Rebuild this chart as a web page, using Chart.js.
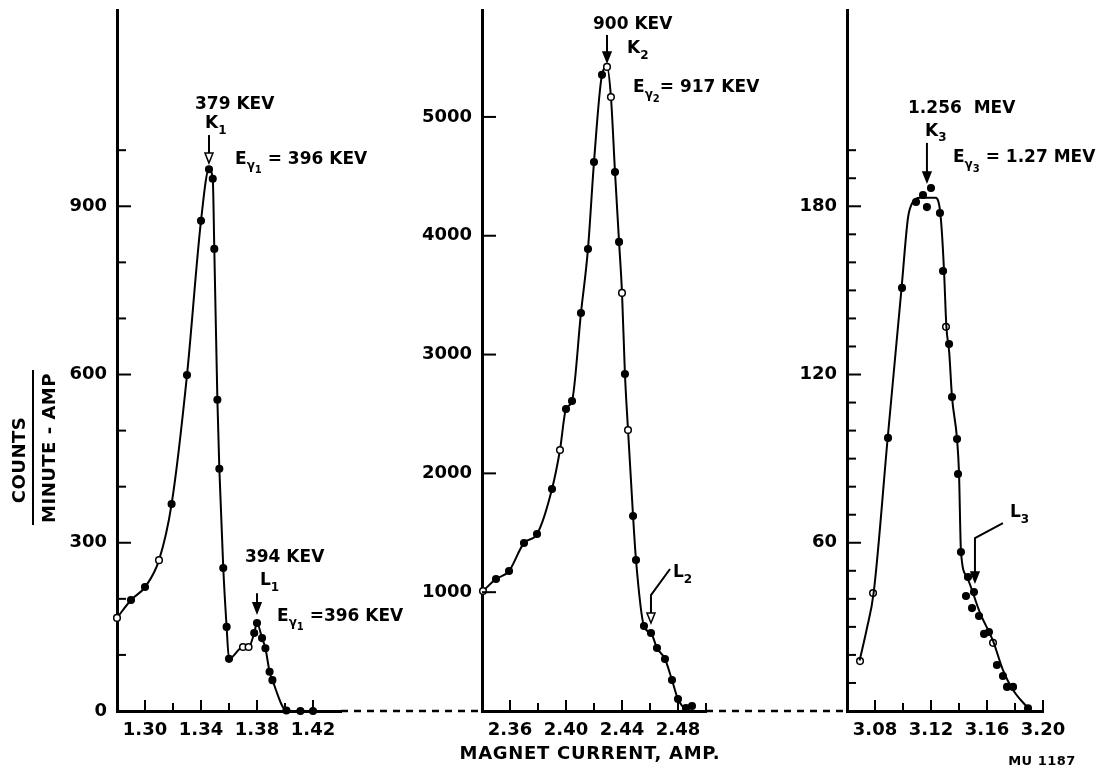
<!DOCTYPE html>
<html lang="en">
<head>
<meta charset="UTF-8">
<title>Conversion electron lines vs magnet current</title>
<script src="https://cdn.jsdelivr.net/npm/chart.js"></script>
<style>
  body { margin: 0; background: #fff; }
  #wrap { position: relative; width: 1103px; height: 772px; }
  #wrap canvas { position: absolute; left: 0; top: 0; }
</style>
</head>
<body>
<div id="wrap">
  <canvas id="k1" width="1103" height="772"></canvas>
  <canvas id="k2" width="1103" height="772"></canvas>
  <canvas id="k3" width="1103" height="772"></canvas>
</div>
<script>
// panel 1 : K1 / L1 lines
const current1 = [1.280, 1.290, 1.300, 1.310, 1.319, 1.330, 1.340, 1.3457, 1.3484, 1.3495, 1.3517, 1.3531,
                  1.3559, 1.3583, 1.360, 1.370, 1.374, 1.378, 1.380, 1.3836, 1.386, 1.389, 1.391, 1.401, 1.411, 1.420];
const counts1 = [166, 198, 221, 269, 369, 599, 874, 966, 949, 824, 555, 432,
                 255, 150, 93, 114, 114, 139, 157, 130, 112, 70, 55, 1, 0, 0];
const open1 = [0, 3, 15, 16];
const xTicks1 = [1.30, 1.32, 1.34, 1.36, 1.38, 1.40, 1.42];
const xLabels1 = [1.30, 1.34, 1.38, 1.42];
const yTicks1 = [0, 100, 200, 300, 400, 500, 600, 700, 800, 900, 1000];
const yLabels1 = [0, 300, 600, 900];

// panel 2 : K2 / L2 lines
const current2 = [2.3407, 2.350, 2.3593, 2.370, 2.3793, 2.390, 2.3957, 2.400, 2.4043, 2.4107, 2.4157, 2.420,
                  2.4257, 2.4293, 2.4321, 2.435, 2.4379, 2.440, 2.4421, 2.4443, 2.4479, 2.450, 2.4557, 2.4607,
                  2.465, 2.4707, 2.4757, 2.480, 2.4857, 2.490];
const counts2 = [1010, 1111, 1178, 1414, 1490, 1869, 2197, 2542, 2609, 3350, 3889, 4621,
                 5354, 5421, 5168, 4537, 3948, 3519, 2837, 2365, 1641, 1271, 715, 657,
                 530, 438, 261, 101, 25, 42];
const open2 = [0, 6, 13, 14, 17, 19];
const xTicks2 = [2.36, 2.38, 2.40, 2.42, 2.44, 2.46, 2.48, 2.50];
const xLabels2 = [2.36, 2.40, 2.44, 2.48];
const yTicks2 = [1000, 2000, 3000, 4000, 5000];
const yLabels2 = [1000, 2000, 3000, 4000, 5000];

// panel 3 : K3 / L3 lines (measured points + drawn curve)
const current3 = [3.0693, 3.0786, 3.0893, 3.0993, 3.1093, 3.1143, 3.1171, 3.120, 3.1264, 3.1286, 3.1307, 3.1329,
                  3.135, 3.1386, 3.1393, 3.1414, 3.145, 3.1464, 3.1493, 3.1507, 3.1543, 3.1579, 3.1614, 3.1643,
                  3.1671, 3.1714, 3.1743, 3.1786, 3.1893];
const counts3 = [17.8, 42.1, 97.4, 150.9, 181.5, 184.0, 179.7, 186.5, 177.6, 156.9, 137.0, 130.9,
                 112.0, 97.0, 84.5, 56.7, 41.0, 47.8, 36.7, 42.4, 33.9, 27.5, 28.2, 24.3,
                 16.4, 12.5, 8.6, 8.6, 1.0];
const open3 = [0, 1, 10, 23];
const curveCurrent3 = [3.069, 3.074, 3.079, 3.089, 3.099, 3.1036, 3.107, 3.112, 3.123, 3.126, 3.1276, 3.1293, 3.131,
                       3.133, 3.135, 3.1386, 3.140, 3.1414, 3.1455, 3.155, 3.1643, 3.1714, 3.1786, 3.1893];
const curveCounts3 = [18, 29, 42, 97, 151, 176, 181.5, 183, 183, 180, 172, 157, 137,
                      128, 112, 97, 85, 57, 48, 35, 25, 14.6, 7.5, 1];
const xTicks3 = [3.08, 3.10, 3.12, 3.14, 3.16, 3.18, 3.20];
const xLabels3 = [3.08, 3.12, 3.16, 3.20];
const yTicks3 = [0, 10, 20, 30, 40, 50, 60, 70, 80, 90, 100, 110, 120, 130, 140, 150, 160, 170, 180, 190, 200];
const yLabels3 = [60, 120, 180];

const FONT = '"DejaVu Sans", sans-serif';
Chart.defaults.font.family = FONT;
Chart.defaults.font.weight = 'bold';
Chart.defaults.color = '#000';

const charts = [];
const has = (arr, v) => arr.some(a => Math.abs(a - v) < 1e-6);
const pts = (xs, ys) => xs.map((x, i) => ({ x: x, y: ys[i] }));
const fills = (xs, open) => xs.map((_, i) => open.includes(i) ? '#fff' : '#000');

function line(ctx, x1, y1, x2, y2) {
  ctx.beginPath(); ctx.moveTo(x1, y1); ctx.lineTo(x2, y2); ctx.stroke();
}

// text with subscripts: parts = [[text, level]]
function rich(ctx, x, y, parts) {
  let cx = x;
  for (const [t, lvl] of parts) {
    const size = lvl === 0 ? 17 : lvl === 1 ? 12 : 10;
    const dy = lvl === 0 ? 0 : lvl === 1 ? 7 : 11;
    ctx.font = 'bold ' + size + 'px ' + FONT;
    ctx.fillText(t, cx, y + dy);
    cx += ctx.measureText(t).width;
  }
}

function arrowHead(ctx, x, y, open) {
  ctx.beginPath();
  ctx.moveTo(x, y); ctx.lineTo(x - 4, y - 10); ctx.lineTo(x + 4, y - 10); ctx.closePath();
  ctx.fillStyle = open ? '#fff' : '#000';
  ctx.fill(); ctx.lineWidth = 1.5; ctx.stroke();
  ctx.fillStyle = '#000';
}

function decor(p, idx) {
  return {
    id: 'decor' + idx,
    afterDraw(chart) {
      const { ctx, chartArea: a, scales: { x, y } } = chart;
      ctx.save();
      ctx.strokeStyle = '#000'; ctx.fillStyle = '#000'; ctx.lineWidth = 2;
      // tick marks point into the plot
      p.xTicks.forEach(v => {
        const px = x.getPixelForValue(v);
        line(ctx, px, a.bottom, px, a.bottom - (has(p.xLabels, v) ? 11 : 8));
      });
      p.yTicks.forEach(v => {
        const py = y.getPixelForValue(v);
        line(ctx, a.left, py, a.left + (has(p.yLabels, v) ? 14 : 9), py);
      });
      // dashed zero line joining the panels
      if (idx > 0 && charts[idx - 1]) {
        ctx.lineWidth = 2.5; ctx.setLineDash([7, 6]);
        line(ctx, charts[idx - 1].chartArea.right, a.bottom, a.left, a.bottom);
        ctx.setLineDash([]);
      }
      // annotations
      ctx.textAlign = 'left'; ctx.textBaseline = 'middle'; ctx.letterSpacing = '0px';
      p.notes.forEach(n => {
        if (n.parts) {
          rich(ctx, x.getPixelForValue(n.x), y.getPixelForValue(n.y), n.parts);
        } else if (n.path) {
          const q = n.path.map(([vx, vy]) => [x.getPixelForValue(vx), y.getPixelForValue(vy)]);
          ctx.lineWidth = 2;
          ctx.beginPath(); ctx.moveTo(q[0][0], q[0][1]);
          for (let i = 1; i < q.length; i++) ctx.lineTo(q[i][0], q[i][1] - (i === q.length - 1 ? 9 : 0));
          ctx.stroke();
          const end = q[q.length - 1];
          arrowHead(ctx, end[0], end[1], n.open);
        }
      });
      if (p.titles) p.titles(ctx);
      ctx.restore();
    }
  };
}

function makePanel(id, p, datasets, idx) {
  const chart = new Chart(document.getElementById(id), {
    type: 'line',
    data: { datasets: datasets },
    options: {
      responsive: false, animation: false, devicePixelRatio: 1, events: [],
      layout: { padding: { left: p.axisX - 80, right: 1103 - p.rightX, top: 10, bottom: 0 } },
      plugins: { legend: { display: false }, tooltip: { enabled: false } },
      scales: {
        x: {
          type: 'linear', min: p.xMin, max: p.xMax,
          afterBuildTicks: s => { s.ticks = p.xTicks.map(v => ({ value: v })); },
          afterFit: s => { s.height = 61; s.paddingLeft = 0; s.paddingRight = 0; },
          grid: { display: false, drawTicks: false },
          border: { display: true, width: 3, color: '#000' },
          ticks: {
            autoSkip: false, maxRotation: 0, padding: 9, color: '#000',
            font: { size: 18, weight: 'bold' },
            callback: v => has(p.xLabels, v) ? v.toFixed(2) : ''
          }
        },
        y: {
          type: 'linear', min: 0, max: p.yMax,
          afterBuildTicks: s => { s.ticks = p.yTicks.map(v => ({ value: v })); },
          afterFit: s => { s.width = 80; s.paddingTop = 0; s.paddingBottom = 0; },
          grid: { display: false, drawTicks: false },
          border: { display: true, width: 3, color: '#000' },
          ticks: {
            autoSkip: false, padding: 10, color: '#000',
            font: { size: 18, weight: 'bold' },
            callback: v => has(p.yLabels, v) ? String(v) : ''
          }
        }
      }
    },
    plugins: [decor(p, idx)]
  });
  charts.push(chart);
  return chart;
}

const lineStyle = {
  borderColor: '#000', borderWidth: 2, cubicInterpolationMode: 'monotone', clip: false,
  pointRadius: 3.3, pointBorderWidth: 1.5, pointBorderColor: '#000'
};

makePanel('k1', {
  axisX: 117, rightX: 341, xMin: 1.28, xMax: 1.44, yMax: 1250,
  xTicks: xTicks1, xLabels: xLabels1, yTicks: yTicks1, yLabels: yLabels1,
  notes: [
    { x: 1.3357, y: 1082, parts: [['379 KEV', 0]] },
    { x: 1.3429, y: 1047, parts: [['K', 0], ['1', 1]] },
    { path: [[1.3457, 1027], [1.3457, 977]], open: true },
    { x: 1.3643, y: 984, parts: [['E', 0], ['γ', 1], ['1', 2], [' = 396 KEV', 0]] },
    { x: 1.3714, y: 273, parts: [['394 KEV', 0]] },
    { x: 1.3821, y: 232, parts: [['L', 0], ['1', 1]] },
    { path: [[1.380, 210], [1.380, 175]], open: false },
    { x: 1.3943, y: 169, parts: [['E', 0], ['γ', 1], ['1', 2], [' =396 KEV', 0]] }
  ],
  titles: ctx => {
    ctx.font = 'bold 18px ' + FONT; ctx.textAlign = 'center'; ctx.letterSpacing = '0.5px';
    ctx.save(); ctx.translate(20, 460); ctx.rotate(-Math.PI / 2); ctx.fillText('COUNTS', 0, 0); ctx.restore();
    ctx.save(); ctx.translate(50, 448); ctx.rotate(-Math.PI / 2); ctx.fillText('MINUTE - AMP', 0, 0); ctx.restore();
    ctx.lineWidth = 2; line(ctx, 33, 370, 33, 525);
  }
}, [Object.assign({ data: pts(current1, counts1), pointBackgroundColor: fills(current1, open1) }, lineStyle)], 0);

makePanel('k2', {
  axisX: 482, rightX: 706, xMin: 2.34, xMax: 2.50, yMax: 5900,
  xTicks: xTicks2, xLabels: xLabels2, yTicks: yTicks2, yLabels: yLabels2,
  notes: [
    { x: 2.4193, y: 5774, parts: [['900 KEV', 0]] },
    { path: [[2.4293, 5690], [2.4293, 5463]], open: false },
    { x: 2.4436, y: 5572, parts: [['K', 0], ['2', 1]] },
    { x: 2.4479, y: 5244, parts: [['E', 0], ['γ', 1], ['2', 2], ['= 917 KEV', 0]] },
    { x: 2.4764, y: 1162, parts: [['L', 0], ['2', 1]] },
    { path: [[2.4743, 1195], [2.4607, 976], [2.4607, 741]], open: true }
  ],
  titles: ctx => {
    ctx.font = 'bold 18px ' + FONT; ctx.textAlign = 'center'; ctx.letterSpacing = '0.7px';
    ctx.fillText('MAGNET CURRENT, AMP.', 590, 754);
  }
}, [Object.assign({ data: pts(current2, counts2), pointBackgroundColor: fills(current2, open2) }, lineStyle)], 1);

makePanel('k3', {
  axisX: 847, rightX: 1043, xMin: 3.06, xMax: 3.20, yMax: 250,
  xTicks: xTicks3, xLabels: xLabels3, yTicks: yTicks3, yLabels: yLabels3,
  notes: [
    { x: 3.1036, y: 214.7, parts: [['1.256  MEV', 0]] },
    { x: 3.1157, y: 206.8, parts: [['K', 0], ['3', 1]] },
    { path: [[3.1171, 202.6], [3.1171, 188.7]], open: false },
    { x: 3.1357, y: 197.2, parts: [['E', 0], ['γ', 1], ['3', 2], [' = 1.27 MEV', 0]] },
    { x: 3.1764, y: 70.6, parts: [['L', 0], ['3', 1]] },
    { path: [[3.1714, 67], [3.1514, 61.7], [3.1514, 46]], open: false }
  ],
  titles: ctx => {
    ctx.font = 'bold 13px ' + FONT; ctx.textAlign = 'center'; ctx.letterSpacing = '0.5px';
    ctx.fillText('MU 1187', 1042, 762);
  }
}, [
  Object.assign({}, lineStyle, { data: pts(curveCurrent3, curveCounts3), pointRadius: 0 }),
  Object.assign({}, lineStyle, { data: pts(current3, counts3), showLine: false, pointBackgroundColor: fills(current3, open3) })
], 2);
</script>
</body>
</html>
